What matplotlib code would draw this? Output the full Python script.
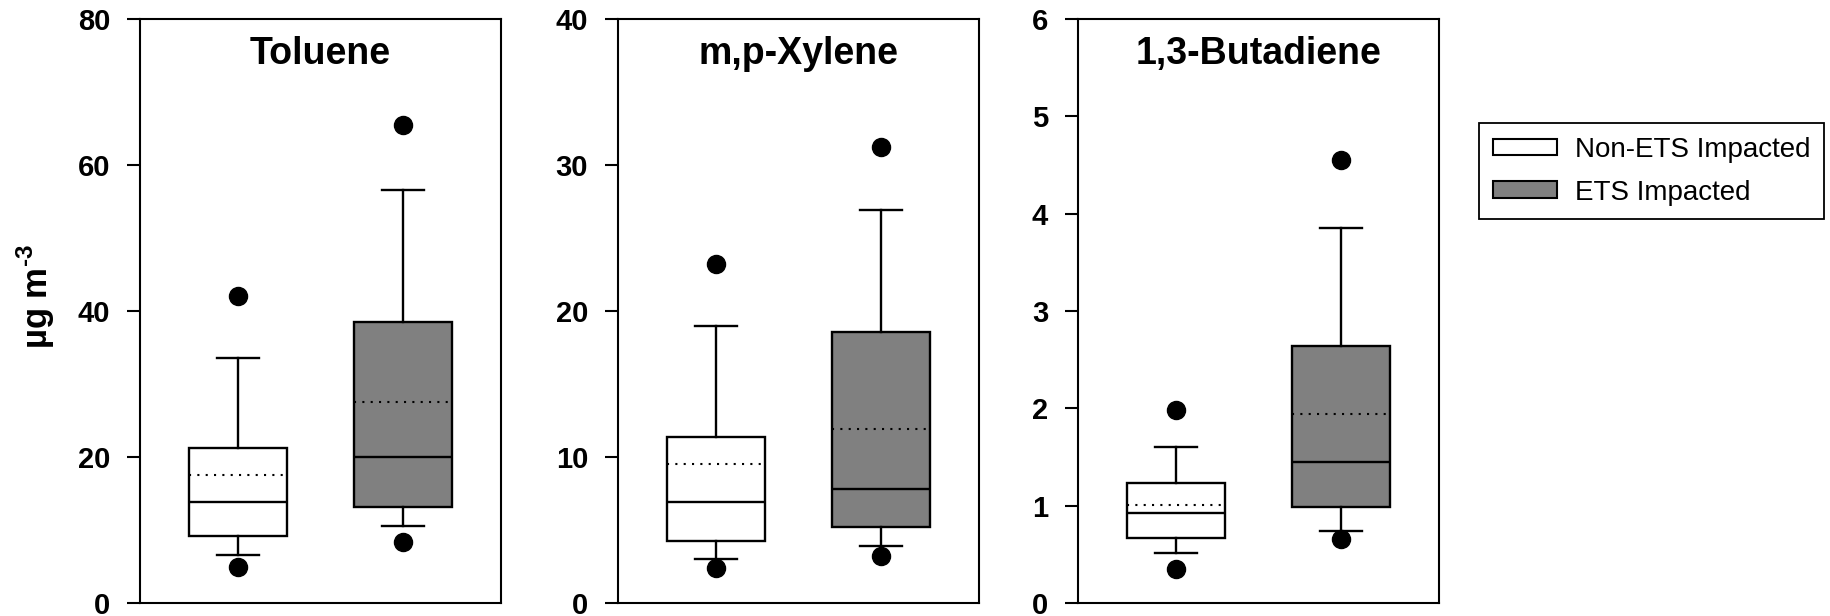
import matplotlib
matplotlib.use('Agg')
import matplotlib.pyplot as plt
from matplotlib.patches import Patch

plt.rcParams['font.family'] = ['Liberation Sans', 'DejaVu Sans']
plt.rcParams['mathtext.fontset'] = 'custom'
plt.rcParams['mathtext.rm'] = 'Liberation Sans:bold'
plt.rcParams['mathtext.bf'] = 'Liberation Sans:bold'

# compounds shown, one panel each
compounds = ['Toluene', 'm,p-Xylene', '1,3-Butadiene']
groups = ['Non-ETS Impacted', 'ETS Impacted']
colors = ['white', '#808080']
ymax = [80, 40, 6]
ystep = [20, 10, 1]

# box stats: [non-ETS, ETS] per compound
p5 = [[5.0, 8.4], [2.4, 3.25], [0.35, 0.66]]
p10 = [[6.6, 10.5], [3.0, 3.9], [0.51, 0.74]]
q1 = [[9.2, 13.1], [4.25, 5.2], [0.67, 0.99]]
median = [[13.9, 20.0], [6.95, 7.8], [0.92, 1.45]]
mean = [[17.6, 27.6], [9.55, 11.9], [1.01, 1.94]]
q3 = [[21.2, 38.5], [11.4, 18.55], [1.23, 2.64]]
p90 = [[33.5, 56.6], [19.0, 26.9], [1.60, 3.85]]
p95 = [[42.0, 65.5], [23.25, 31.2], [1.98, 4.55]]

fig = plt.figure(figsize=(18.31, 6.16), dpi=100)
lefts = [140, 618, 1078]

for i, name in enumerate(compounds):
    ax = fig.add_axes([lefts[i] / 1831, 13 / 616, 361 / 1831, 584 / 616])
    stats = []
    for j in range(2):
        stats.append({'med': median[i][j], 'q1': q1[i][j], 'q3': q3[i][j],
                      'whislo': p10[i][j], 'whishi': p90[i][j],
                      'mean': mean[i][j], 'fliers': [p5[i][j], p95[i][j]]})
    bp = ax.bxp(stats, positions=[1, 2], widths=0.594, capwidths=0.25,
                showmeans=True, meanline=True, patch_artist=True,
                boxprops=dict(linewidth=1.7, edgecolor='black'),
                medianprops=dict(color='black', linewidth=1.7),
                meanprops=dict(color='black', linewidth=1.5, linestyle=(0, (1, 3))),
                whiskerprops=dict(color='black', linewidth=1.7),
                capprops=dict(color='black', linewidth=1.7),
                flierprops=dict(marker='o', markerfacecolor='black',
                                markeredgecolor='black', markersize=13))
    for box, c in zip(bp['boxes'], colors):
        box.set_facecolor(c)
    ax.set_xlim(0.408, 2.592)
    ax.set_ylim(0, ymax[i])
    ax.set_yticks(range(0, ymax[i] + 1, ystep[i]))
    ax.set_xticks([])
    ax.tick_params(axis='y', direction='out', length=9.5, width=1.5, labelsize=21, pad=12)
    for lab in ax.get_yticklabels():
        lab.set_fontweight('bold')
    for sp in ax.spines.values():
        sp.set_linewidth(1.5)
    ax.text(0.5, 0.923, name, transform=ax.transAxes, ha='center', va='baseline',
            fontsize=27, fontweight='bold')
    if i == 0:
        ax.set_ylabel(r'µg m$^{\text{-3}}$', fontsize=25, fontweight='bold')
        ax.yaxis.set_label_coords(-0.23, 0.524)

handles = [Patch(facecolor=c, edgecolor='black', linewidth=1.5) for c in colors]
lg = fig.legend(handles, groups, loc='upper left', bbox_to_anchor=(1479 / 1831, 1 - 123 / 616),
                fontsize=20, fancybox=False, edgecolor='black', framealpha=1,
                handlelength=2.3, handleheight=0.55, handletextpad=0.65,
                labelspacing=0.6, borderpad=0.5, borderaxespad=0)
lg.get_frame().set_linewidth(1.3)

fig.savefig('out.png', dpi=100)
